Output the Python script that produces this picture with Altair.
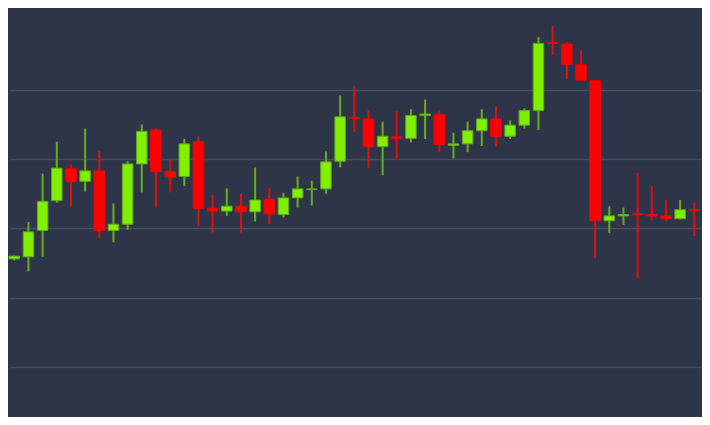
import altair as alt
import pandas as pd

# candle index (0 is the partially visible first candle)
idx = list(range(49))
opens = [6156, 6159, 6197, 6240, 6286, 6268, 6283, 6197, 6206, 6293,
         6342, 6282, 6275, 6325, 6229, 6225, 6232, 6224, 6242, 6220,
         6244, 6256, 6257, 6297, 6360, 6358, 6318, 6332, 6330, 6363,
         6364, 6320, 6322, 6341, 6358, 6333, 6349, 6370, 6468, 6466,
         6436, 6413, 6211, 6218, 6221, 6220, 6218, 6214, 6227]
highs = [6161, 6209, 6279, 6325, 6292, 6344, 6312, 6236, 6297, 6350,
         6344, 6299, 6329, 6333, 6248, 6258, 6250, 6288, 6258, 6251,
         6275, 6269, 6311, 6392, 6405, 6370, 6354, 6369, 6372, 6386,
         6370, 6338, 6354, 6372, 6376, 6356, 6373, 6476, 6492, 6469,
         6457, 6413, 6232, 6230, 6280, 6261, 6241, 6241, 6237]
lows = [6154, 6138, 6159, 6237, 6232, 6253, 6186, 6180, 6198, 6252,
        6230, 6252, 6261, 6204, 6194, 6218, 6194, 6210, 6206, 6216,
        6230, 6233, 6250, 6288, 6339, 6287, 6277, 6299, 6324, 6329,
        6310, 6301, 6310, 6319, 6318, 6329, 6344, 6342, 6450, 6416,
        6414, 6157, 6193, 6205, 6128, 6212, 6210, 6213, 6189]
closes = [6160, 6195, 6239, 6287, 6268, 6283, 6197, 6206, 6293, 6340,
          6282, 6274, 6322, 6229, 6225, 6232, 6224, 6241, 6221, 6244,
          6257, 6257, 6296, 6361, 6359, 6318, 6333, 6330, 6363, 6365,
          6321, 6322, 6341, 6358, 6333, 6349, 6370, 6467, 6467, 6437,
          6414, 6211, 6218, 6220, 6220, 6218, 6214, 6227, 6226]
grid_values = [6000, 6100, 6200, 6300, 6400]

df = pd.DataFrame({"i": idx, "open": opens, "high": highs,
                   "low": lows, "close": closes})

BG = "#2e3549"
UP = "datum.close >= datum.open"
x = alt.X("i:Q", scale=alt.Scale(domain=[0.05, 48.19], nice=False, zero=False), axis=None)
yscale = alt.Scale(domain=[5927.8, 6518.1], nice=False, zero=False)

wicks = alt.Chart(df).mark_rule(strokeWidth=2).encode(
    x=x,
    y=alt.Y("low:Q", scale=yscale,
            axis=alt.Axis(values=grid_values, labels=False, ticks=False, domain=False,
                          title=None, grid=True, gridColor="#474e60", gridWidth=1.5)),
    y2="high:Q",
    color=alt.condition(UP, alt.value("#66ad1e"), alt.value("#e01010")),
)

bodies = alt.Chart(df).mark_bar(size=10.5, strokeWidth=1).encode(
    x=x,
    y=alt.Y("open:Q", scale=yscale),
    y2="close:Q",
    color=alt.condition(UP, alt.value("#80f000"), alt.value("#ff0000")),
    stroke=alt.condition(UP, alt.value("#62a81c"), alt.value("#ff0000")),
)

chart = alt.layer(wicks, bodies).properties(
    width=694, height=409,
    autosize=alt.AutoSizeParams(type="fit", contains="padding"),
    padding=0,
    background=BG,
).configure_view(strokeWidth=0, fill=BG)

chart.save("out.html", embed_options={"renderer": "svg", "actions": False})
